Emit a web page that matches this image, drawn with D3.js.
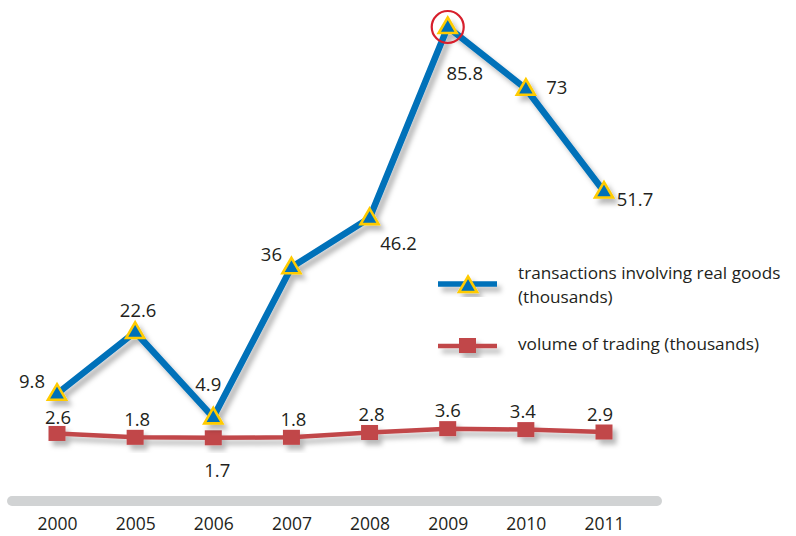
<!DOCTYPE html>
<html>
<head>
<meta charset="utf-8">
<script src="https://cdn.jsdelivr.net/npm/d3@7/dist/d3.min.js"></script>
<style>
  html, body { margin: 0; padding: 0; background: #ffffff; }
  svg { display: block; }
  text { font-family: "Open Sans", "Noto Sans", sans-serif; fill: #231f20; }
</style>
</head>
<body>
<script>
// Categories and series
const years = ["2000", "2005", "2006", "2007", "2008", "2009", "2010", "2011"];
const transactions = [9.8, 22.6, 4.9, 36, 46.2, 85.8, 73, 51.7];
const volume = [2.6, 1.8, 1.7, 1.8, 2.8, 3.6, 3.4, 2.9];
const seriesNames = ["transactions involving real goods", "(thousands)", "volume of trading (thousands)"];

// Label placement relative to each point [dx, dy]
const transLabelOffsets = [[-25, -13], [3, -22], [-5, -34], [-20, -14], [29, 24], [17, 45], [31, -2], [31, 7]];
const volLabelOffsets = [[1, -17], [2, -19], [4, 32], [2, -19], [2, -19], [0, -19], [-3, -19], [-4, -19]];

const W = 796, H = 536;
const svg = d3.select("body").append("svg").attr("width", W).attr("height", H);

const defs = svg.append("defs");
const shadow = defs.append("filter").attr("id", "shadow")
  .attr("x", "-20%").attr("y", "-20%").attr("width", "150%").attr("height", "150%");
shadow.append("feDropShadow")
  .attr("dx", 4).attr("dy", 5).attr("stdDeviation", 2.6)
  .attr("flood-color", "#000").attr("flood-opacity", 0.28);

const x = d3.scalePoint().domain(years).range([57, 604]);
const slope = 4.825;
const yTrans = d3.scaleLinear().domain([0, 90]).range([441, 441 - 90 * slope]);
const yVol = d3.scaleLinear().domain([0, 90]).range([446, 446 - 90 * slope]);

const blue = "#0071b9", yellow = "#ffcb05", red = "#c1464a";

// Baseline bar
svg.append("rect").attr("x", 7).attr("y", 496).attr("width", 655).attr("height", 10)
  .attr("rx", 5).attr("fill", "#d1d3d4");

// Year axis labels
const xAxis = d3.axisBottom(x).tickSize(0).tickPadding(0);
const gx = svg.append("g").attr("transform", "translate(0,530)").call(xAxis);
gx.select(".domain").remove();
gx.selectAll("text").attr("font-size", 17.5).attr("fill", "#231f20")
  .attr("font-family", "\"Open Sans\", sans-serif").attr("dy", "0");

const triPath = "M0,-9.5 L9,6 L-9,6 Z";

// Volume series
const volData = years.map((yr, i) => ({ yr, v: volume[i], off: volLabelOffsets[i] }));
const volLine = d3.line().x(d => x(d.yr)).y(d => yVol(d.v));
const gVol = svg.append("g").attr("filter", "url(#shadow)");
gVol.append("path").datum(volData).attr("d", volLine)
  .attr("fill", "none").attr("stroke", red).attr("stroke-width", 4.5);
gVol.selectAll("rect").data(volData).join("rect")
  .attr("x", d => x(d.yr) - 8.5).attr("y", d => yVol(d.v) - 7.5)
  .attr("width", 17).attr("height", 15).attr("fill", red);

// Transactions series
const trData = years.map((yr, i) => ({ yr, v: transactions[i], off: transLabelOffsets[i] }));
const trLine = d3.line().x(d => x(d.yr)).y(d => yTrans(d.v));
const gTr = svg.append("g").attr("filter", "url(#shadow)");
gTr.append("path").datum(trData).attr("d", trLine)
  .attr("fill", "none").attr("stroke", blue).attr("stroke-width", 6.5)
  .attr("stroke-linejoin", "round");
gTr.selectAll("path.tri").data(trData).join("path").attr("class", "tri")
  .attr("d", triPath)
  .attr("transform", d => `translate(${x(d.yr)},${yTrans(d.v)})`)
  .attr("fill", blue).attr("stroke", yellow).attr("stroke-width", 2.6)
  .attr("stroke-linejoin", "miter");

// Highlight ring around the peak value
const peak = trData[d3.maxIndex(trData, d => d.v)];
svg.append("circle").attr("cx", x(peak.yr)).attr("cy", yTrans(peak.v))
  .attr("r", 16).attr("fill", "none").attr("stroke", "#d71f2c").attr("stroke-width", 2.2);

// Value labels
svg.append("g").selectAll("text").data(trData).join("text")
  .attr("x", d => x(d.yr) + d.off[0]).attr("y", d => yTrans(d.v) + d.off[1])
  .attr("text-anchor", "middle").attr("dominant-baseline", "central")
  .attr("font-size", 18.5).text(d => d.v);
svg.append("g").selectAll("text").data(volData).join("text")
  .attr("x", d => x(d.yr) + d.off[0]).attr("y", d => yVol(d.v) + d.off[1])
  .attr("text-anchor", "middle").attr("dominant-baseline", "central")
  .attr("font-size", 18.5).text(d => d.v);

// Legend
const lg = svg.append("g");
const lgBlue = lg.append("g").attr("filter", "url(#shadow)");
lgBlue.append("line").attr("x1", 438).attr("x2", 497).attr("y1", 284).attr("y2", 284)
  .attr("stroke", blue).attr("stroke-width", 5.5);
lgBlue.append("path").attr("d", triPath).attr("transform", "translate(468,286)")
  .attr("fill", blue).attr("stroke", yellow).attr("stroke-width", 2.6);
const lgRed = lg.append("g").attr("filter", "url(#shadow)");
lgRed.append("line").attr("x1", 438).attr("x2", 497).attr("y1", 346).attr("y2", 346)
  .attr("stroke", red).attr("stroke-width", 4.5);
lgRed.append("rect").attr("x", 459).attr("y", 338).attr("width", 17).attr("height", 15)
  .attr("fill", red);

lg.append("text").attr("x", 518).attr("y", 272).attr("dominant-baseline", "central")
  .attr("font-size", 17.2).text(seriesNames[0]);
lg.append("text").attr("x", 518).attr("y", 296).attr("dominant-baseline", "central")
  .attr("font-size", 17.2).text(seriesNames[1]);
lg.append("text").attr("x", 518).attr("y", 343).attr("dominant-baseline", "central")
  .attr("font-size", 17.2).text(seriesNames[2]);
</script>
</body>
</html>
